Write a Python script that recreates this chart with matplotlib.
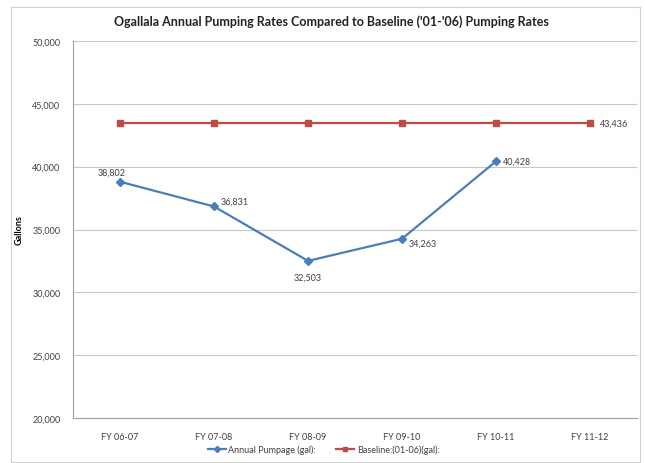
import matplotlib.pyplot as plt
from matplotlib.patches import Rectangle
from matplotlib.ticker import FuncFormatter

# data
years = ["FY 06-07", "FY 07-08", "FY 08-09", "FY 09-10", "FY 10-11", "FY 11-12"]
annual = [38802, 36831, 32503, 34263, 40428]
baseline = [43436, 43436, 43436, 43436, 43436, 43436]

plt.rcParams['font.family'] = ['Lato', 'DejaVu Sans']

fig = plt.figure(figsize=(6.45, 4.64), dpi=100)
ax = fig.add_axes([73 / 645, 1 - 419 / 464, 564 / 645, 377 / 464])

# chart border
fig.patches.append(Rectangle((11 / 645, 0.002), 629 / 645, 1 - 8 / 464 - 0.002,
                             transform=fig.transFigure, fill=False,
                             edgecolor='#d0d0d0', linewidth=0.8))

blue = '#4a7ebb'
red = '#be4b48'
x_a = list(range(len(annual)))
x_b = list(range(len(baseline)))

ax.plot(x_a, annual, color=blue, linewidth=1.6, marker='D', markersize=4.5,
        label='Annual Pumpage (gal):', zorder=3)
ax.plot(x_b, baseline, color=red, linewidth=1.6, marker='s', markersize=5,
        label='Baseline:(01-06)(gal):', zorder=3)

# data labels
offsets = [(-6, 7, 'center'), (5, 4, 'left'), (0, -12, 'center'),
           (5, -3, 'left'), (5, 0, 'left')]
for i, v in enumerate(annual):
    dx, dy, ha = offsets[i]
    ax.annotate(f"{v:,}", (i, v), xytext=(dx, dy), textcoords='offset points',
                ha=ha, va='center', fontsize=6.5, color='#404040')
ax.annotate(f"{baseline[-1]:,}", (len(baseline) - 1, baseline[-1]), xytext=(7, 0),
            textcoords='offset points', ha='left', va='center', fontsize=6.5,
            color='#404040')

ax.set_xlim(-0.5, len(years) - 0.5)
ax.set_ylim(20000, 50000)
ax.set_yticks(range(20000, 50001, 5000))
ax.yaxis.set_major_formatter(FuncFormatter(lambda v, p: f"{int(v):,}"))
ax.set_xticks(range(len(years)))
ax.set_xticklabels(years)
ax.tick_params(axis='both', length=0, labelsize=6.5, colors='#404040', pad=9)
ax.tick_params(axis='x', pad=10)

ax.grid(axis='y', color='#c8c8c8', linewidth=0.8)
ax.set_axisbelow(True)
for side in ['top', 'right']:
    ax.spines[side].set_visible(False)
for side in ['left', 'bottom']:
    ax.spines[side].set_color('#a0a0a0')
    ax.spines[side].set_linewidth(0.8)

ax.set_ylabel("Gallons", fontsize=6.5, fontweight='bold', labelpad=6)

fig.text(0.5 + 9 / 645, 1 - 22 / 464, "Ogallala Annual Pumping Rates Compared to Baseline ('01-'06) Pumping Rates",
         ha='center', va='center', fontsize=9, fontweight='bold', color='#222222')

fig.legend(loc='center', bbox_to_anchor=(0.5 + 1 / 645, 1 - 450 / 464), ncol=2,
           frameon=False, fontsize=6.5, handlelength=2, handletextpad=0.3,
           columnspacing=2.2, markerscale=0.7, labelcolor='#404040')

fig.savefig('out.png', dpi=100)
